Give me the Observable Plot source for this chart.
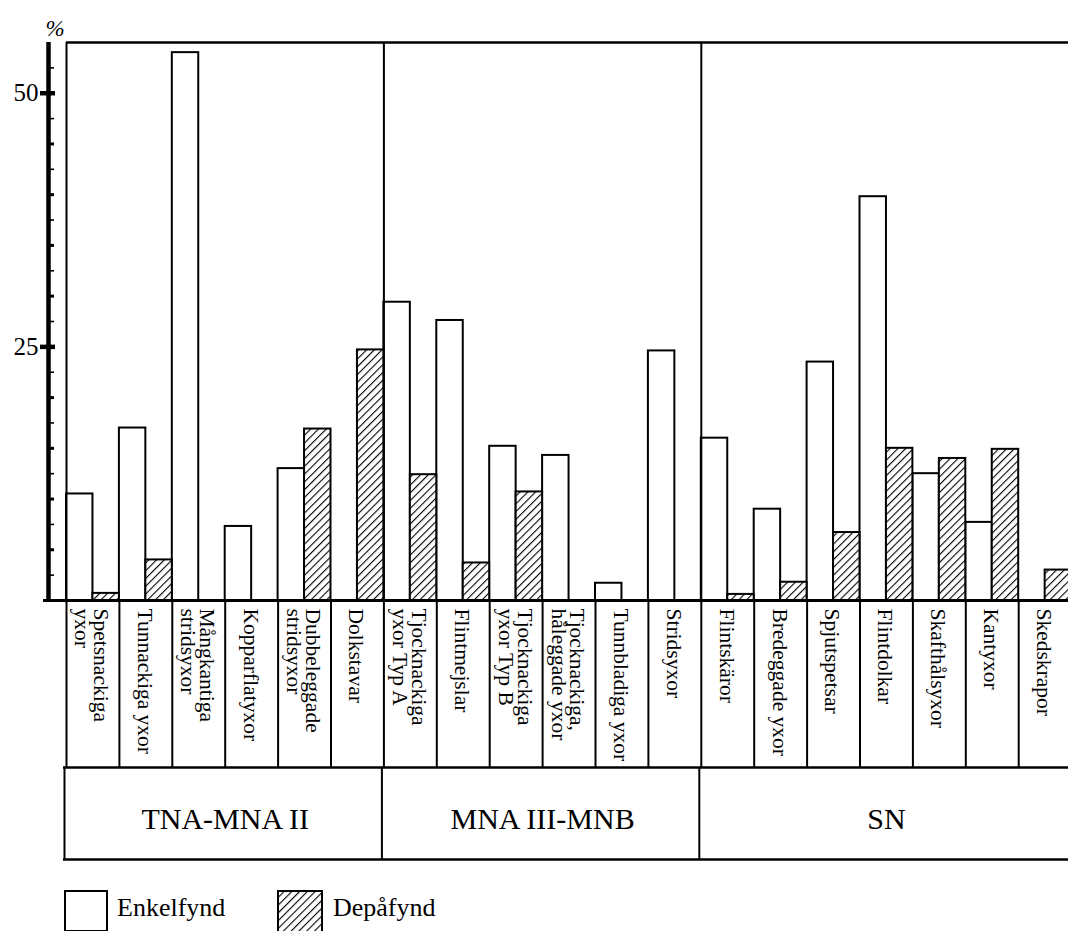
<!DOCTYPE html>
<html>
<head>
<meta charset="utf-8">
<script src="https://cdn.jsdelivr.net/npm/d3@7"></script>
<script src="https://cdn.jsdelivr.net/npm/@observablehq/plot@0.6"></script>
<style>
  html, body { margin: 0; padding: 0; background: #fff; overflow: hidden; }
  #chart svg { display: block; background: #fff; }
  #legend { position: relative; height: 61px; font-family: "Liberation Serif", "Times New Roman", serif; }
  #legend .box { position: absolute; top: 20px; height: 42px; box-sizing: border-box; border: 2px solid #000; }
  #legend .lab { position: absolute; top: 23px; font-size: 26px; line-height: 30px; color: #000; }
</style>
</head>
<body>
<svg width="0" height="0" style="position:absolute">
  <defs>
    <pattern id="hatch" patternUnits="userSpaceOnUse" width="5.5" height="5.5" patternTransform="rotate(45)">
      <rect width="5.5" height="5.5" fill="#fff"></rect>
      <line x1="0" y1="0" x2="0" y2="5.5" stroke="#000" stroke-width="2.2"></line>
    </pattern>
  </defs>
</svg>
<div id="chart"></div>
<div id="legend">
  <div class="box" style="left:64px;width:44px;background:#fff"></div>
  <div class="lab" style="left:117px">Enkelfynd</div>
  <svg class="box" style="left:277px;width:46px;border:none" width="46" height="42"><rect x="1" y="1" width="44" height="44" fill="url(#hatch)" stroke="#000" stroke-width="2"></rect></svg>
  <div class="lab" style="left:333px">Depåfynd</div>
</div>
<script>
// ---- data ----
const categories = [
  "Spetsnackiga\nyxor", "Tunnackiga yxor", "Mångkantiga\nstridsyxor", "Kopparflatyxor",
  "Dubbeleggade\nstridsyxor", "Dolkstavar",
  "Tjocknackiga\nyxor Typ A", "Flintmejslar", "Tjocknackiga\nyxor Typ B",
  "Tjocknackiga,\nhåleggade yxor", "Tunnbladiga yxor", "Stridsyxor",
  "Flintskäror", "Bredeggade yxor", "Spjutspetsar", "Flintdolkar",
  "Skafthålsyxor", "Kantyxor", "Skedskrapor"
];
const enkelfynd = [10.5, 17.0, 54.0, 7.3, 13.0, 0, 29.4, 27.6, 15.2, 14.3, 1.7, 24.6, 16.0, 9.0, 23.5, 39.8, 12.5, 7.7, 0];
const depafynd  = [0.7, 4.0, 0, 0, 16.9, 24.7, 12.4, 3.7, 10.7, 0, 0, 0, 0.6, 1.8, 6.7, 15.0, 14.0, 14.9, 3.0];
const periods = ["TNA-MNA II", "MNA III-MNB", "SN"];
const periodStart = [0, 6, 12];
const periodEnd = [6, 12, 19];
const labeledTicks = [25, 50];
const majorTicks = [5, 10, 15, 20, 30, 35, 40, 45];
const minorTicks = [2.5, 7.5, 12.5, 17.5, 22.5, 27.5, 32.5, 37.5, 42.5, 47.5, 52.5];
const yTop = 55;

// ---- layout ----
const W = 1068, H = 870;
const mLeft = 47, mTop = 42, mBottom = 11;
const SLOT = 52.9;             // px per category slot
const FIRST = 66;              // px of first slot boundary
const PXU = (600 - mTop) / yTop; // px per percent
const XMIN = -(FIRST - mLeft) / SLOT;
const XMAX = (W - FIRST) / SLOT;
const px2x = p => XMIN + p / SLOT;   // px offset from axis line -> x units
const LABEL_BOTTOM = -167 / PXU;
const PERIOD_BOTTOM = -(H - mBottom - 600) / PXU;
const serif = "Liberation Serif, Times New Roman, serif";

const rows = categories.map((c, i) => ({i, c, e: enkelfynd[i], d: depafynd[i]}));
const periodRows = periods.map((p, k) => ({p, s: periodStart[k], e: periodEnd[k]}));
const boundaries = d3.range(0, categories.length + 1);

const plot = Plot.plot({
  width: W, height: H,
  marginLeft: mLeft, marginRight: 0, marginTop: mTop, marginBottom: mBottom,
  x: {domain: [XMIN, XMAX], axis: null},
  y: {domain: [PERIOD_BOTTOM, yTop], axis: null},
  style: {background: "#fff", color: "#000"},
  marks: [
    // bars
    Plot.rectY(rows.filter(r => r.e > 0), {x1: r => r.i, x2: r => r.i + 0.5, y1: 0, y2: "e", fill: "#fff", stroke: "#000", strokeWidth: 2}),
    Plot.rectY(rows.filter(r => r.d > 0), {x1: r => r.i + 0.5, x2: r => r.i + 1, y1: 0, y2: "d", fill: "url(#hatch)", stroke: "#000", strokeWidth: 2}),
    // chart frame
    Plot.ruleY([yTop], {x1: 0, x2: categories.length, stroke: "#000", strokeWidth: 2.5}),
    Plot.ruleX(periodStart, {y1: 0, y2: yTop, stroke: "#000", strokeWidth: 2}),
    // baseline
    Plot.ruleY([0], {x1: px2x(-4), x2: categories.length, stroke: "#000", strokeWidth: 3}),
    // category label cells
    Plot.ruleX(boundaries, {y1: 0, y2: LABEL_BOTTOM, stroke: "#000", strokeWidth: 2}),
    Plot.ruleY([LABEL_BOTTOM, PERIOD_BOTTOM], {x1: px2x(16), x2: categories.length, stroke: "#000", strokeWidth: 2.5}),
    Plot.ruleX([...periodStart, categories.length], {y1: LABEL_BOTTOM, y2: PERIOD_BOTTOM, dx: -2, stroke: "#000", strokeWidth: 2}),
    Plot.text(rows, {x: r => r.i + 0.5, y: 0, dy: 8, dx: -2, text: "c", rotate: 90, textAnchor: "start", lineAnchor: "middle",
      lineHeight: 0.88, fontSize: 21.5, fontFamily: serif, fill: "#000"}),
    Plot.text(periodRows, {x: r => (r.s + r.e) / 2, y: (LABEL_BOTTOM + PERIOD_BOTTOM) / 2, dy: 6, text: "p",
      fontSize: 30, fontFamily: serif, fill: "#000"}),
    // y axis
    Plot.ruleX([px2x(1)], {y1: 0, y2: yTop, stroke: "#000", strokeWidth: 4.5}),
    Plot.ruleY(minorTicks, {x1: px2x(1), x2: px2x(7), stroke: "#000", strokeWidth: 1.6}),
    Plot.ruleY(majorTicks, {x1: px2x(1), x2: px2x(7), stroke: "#000", strokeWidth: 3}),
    Plot.ruleY(labeledTicks, {x1: px2x(-7), x2: px2x(8), stroke: "#000", strokeWidth: 4.5}),
    Plot.text(labeledTicks, {y: d => d, frameAnchor: "left", dx: -9, textAnchor: "end", text: d => String(d),
      fontSize: 25, fontFamily: serif, fill: "#000"}),
    Plot.text(["%"], {frameAnchor: "top-left", dx: -2, dy: -23, text: d => d, fontSize: 23, fontStyle: "italic",
      fontFamily: serif, fill: "#000"})
  ]
});
document.getElementById("chart").appendChild(plot);
</script>
</body>
</html>
